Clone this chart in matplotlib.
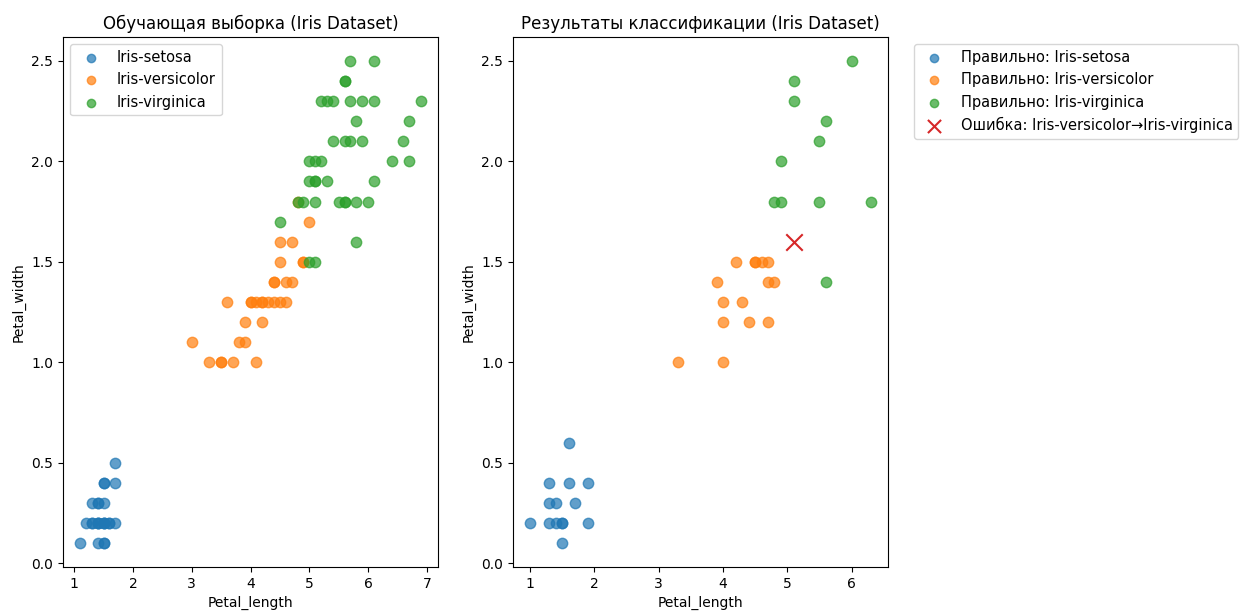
import matplotlib
matplotlib.use("Agg")
import matplotlib.pyplot as plt

# training set (petal length, petal width)
setosa_len = [1.1, 1.4, 1.5, 1.5, 1.2, 1.3, 1.3, 1.4, 1.4, 1.4, 1.5, 1.5, 1.5, 1.6, 1.6, 1.7,
              1.3, 1.4, 1.4, 1.5, 1.5, 1.5, 1.7, 1.7]
setosa_wid = [0.1, 0.1, 0.1, 0.1, 0.2, 0.2, 0.2, 0.2, 0.2, 0.2, 0.2, 0.2, 0.2, 0.2, 0.2, 0.2,
              0.3, 0.3, 0.3, 0.3, 0.4, 0.4, 0.4, 0.5]

versi_len = [3.3, 3.5, 3.5, 3.7, 4.1, 3.0, 3.8, 3.9, 3.9, 4.2,
             3.6, 4.0, 4.0, 4.1, 4.2, 4.2, 4.3, 4.4, 4.5, 4.6,
             4.4, 4.4, 4.6, 4.7, 4.5, 4.9, 4.9, 4.5, 4.7, 5.0, 4.8]
versi_wid = [1.0, 1.0, 1.0, 1.0, 1.0, 1.1, 1.1, 1.1, 1.2, 1.2,
             1.3, 1.3, 1.3, 1.3, 1.3, 1.3, 1.3, 1.3, 1.3, 1.3,
             1.4, 1.4, 1.4, 1.4, 1.5, 1.5, 1.5, 1.6, 1.6, 1.7, 1.8]

virg_len = [5.0, 5.1, 5.8, 4.5, 4.8, 4.9, 5.1, 5.5, 5.6, 5.6, 5.8, 6.0,
            5.0, 5.1, 5.1, 5.3, 6.1, 5.0, 5.1, 5.2, 6.4, 6.7,
            5.4, 5.6, 5.7, 5.9, 6.6, 5.8, 6.7,
            5.2, 5.3, 5.4, 5.7, 5.9, 6.1, 6.9, 5.6, 5.6, 5.7, 6.1]
virg_wid = [1.5, 1.5, 1.6, 1.7, 1.8, 1.8, 1.8, 1.8, 1.8, 1.8, 1.8, 1.8,
            1.9, 1.9, 1.9, 1.9, 1.9, 2.0, 2.0, 2.0, 2.0, 2.0,
            2.1, 2.1, 2.1, 2.1, 2.1, 2.2, 2.2,
            2.3, 2.3, 2.3, 2.3, 2.3, 2.3, 2.3, 2.4, 2.4, 2.5, 2.5]

# test set, correctly classified
t_setosa_len = [1.5, 1.0, 1.3, 1.4, 1.5, 1.5, 1.9, 1.3, 1.4, 1.7, 1.3, 1.6, 1.9, 1.6]
t_setosa_wid = [0.1, 0.2, 0.2, 0.2, 0.2, 0.2, 0.2, 0.3, 0.3, 0.3, 0.4, 0.4, 0.4, 0.6]

t_versi_len = [3.3, 4.0, 4.0, 4.4, 4.7, 4.0, 4.3, 3.9, 4.7, 4.8, 4.2, 4.5, 4.5, 4.6, 4.7]
t_versi_wid = [1.0, 1.0, 1.2, 1.2, 1.2, 1.3, 1.3, 1.4, 1.4, 1.4, 1.5, 1.5, 1.5, 1.5, 1.5]

t_virg_len = [5.6, 4.8, 4.9, 5.5, 6.3, 4.9, 5.5, 5.6, 5.1, 5.1, 6.0]
t_virg_wid = [1.4, 1.8, 1.8, 1.8, 1.8, 2.0, 2.1, 2.2, 2.3, 2.4, 2.5]

# misclassified
err_len = [5.1]
err_wid = [1.6]

fig = plt.figure(figsize=(12.48, 6.15), dpi=100)
ax1 = fig.add_axes([0.0505, 0.078, 0.3005, 0.862])
ax2 = fig.add_axes([0.411, 0.078, 0.3005, 0.862])

ax1.scatter(setosa_len, setosa_wid, s=56, alpha=0.7, label="Iris-setosa")
ax1.scatter(versi_len, versi_wid, s=56, alpha=0.7, label="Iris-versicolor")
ax1.scatter(virg_len, virg_wid, s=56, alpha=0.7, label="Iris-virginica")
ax1.set_title("Обучающая выборка (Iris Dataset)")
ax1.set_xlabel("Petal_length")
ax1.set_ylabel("Petal_width")
ax1.legend(loc="upper left", fontsize=10.5, markerscale=0.8)

ax2.scatter(t_setosa_len, t_setosa_wid, s=56, alpha=0.7, label="Правильно: Iris-setosa")
ax2.scatter(t_versi_len, t_versi_wid, s=56, alpha=0.7, label="Правильно: Iris-versicolor")
ax2.scatter(t_virg_len, t_virg_wid, s=56, alpha=0.7, label="Правильно: Iris-virginica")
ax2.scatter(err_len, err_wid, marker="x", s=140, linewidths=1.5, color="tab:red",
            label="Ошибка: Iris-versicolor→Iris-virginica")
ax2.set_title("Результаты классификации (Iris Dataset)")
ax2.set_xlabel("Petal_length")
ax2.set_ylabel("Petal_width")
ax2.legend(bbox_to_anchor=(1.05, 1), loc="upper left", fontsize=10.5, markerscale=0.8)

fig.savefig("out.png", dpi=100)
